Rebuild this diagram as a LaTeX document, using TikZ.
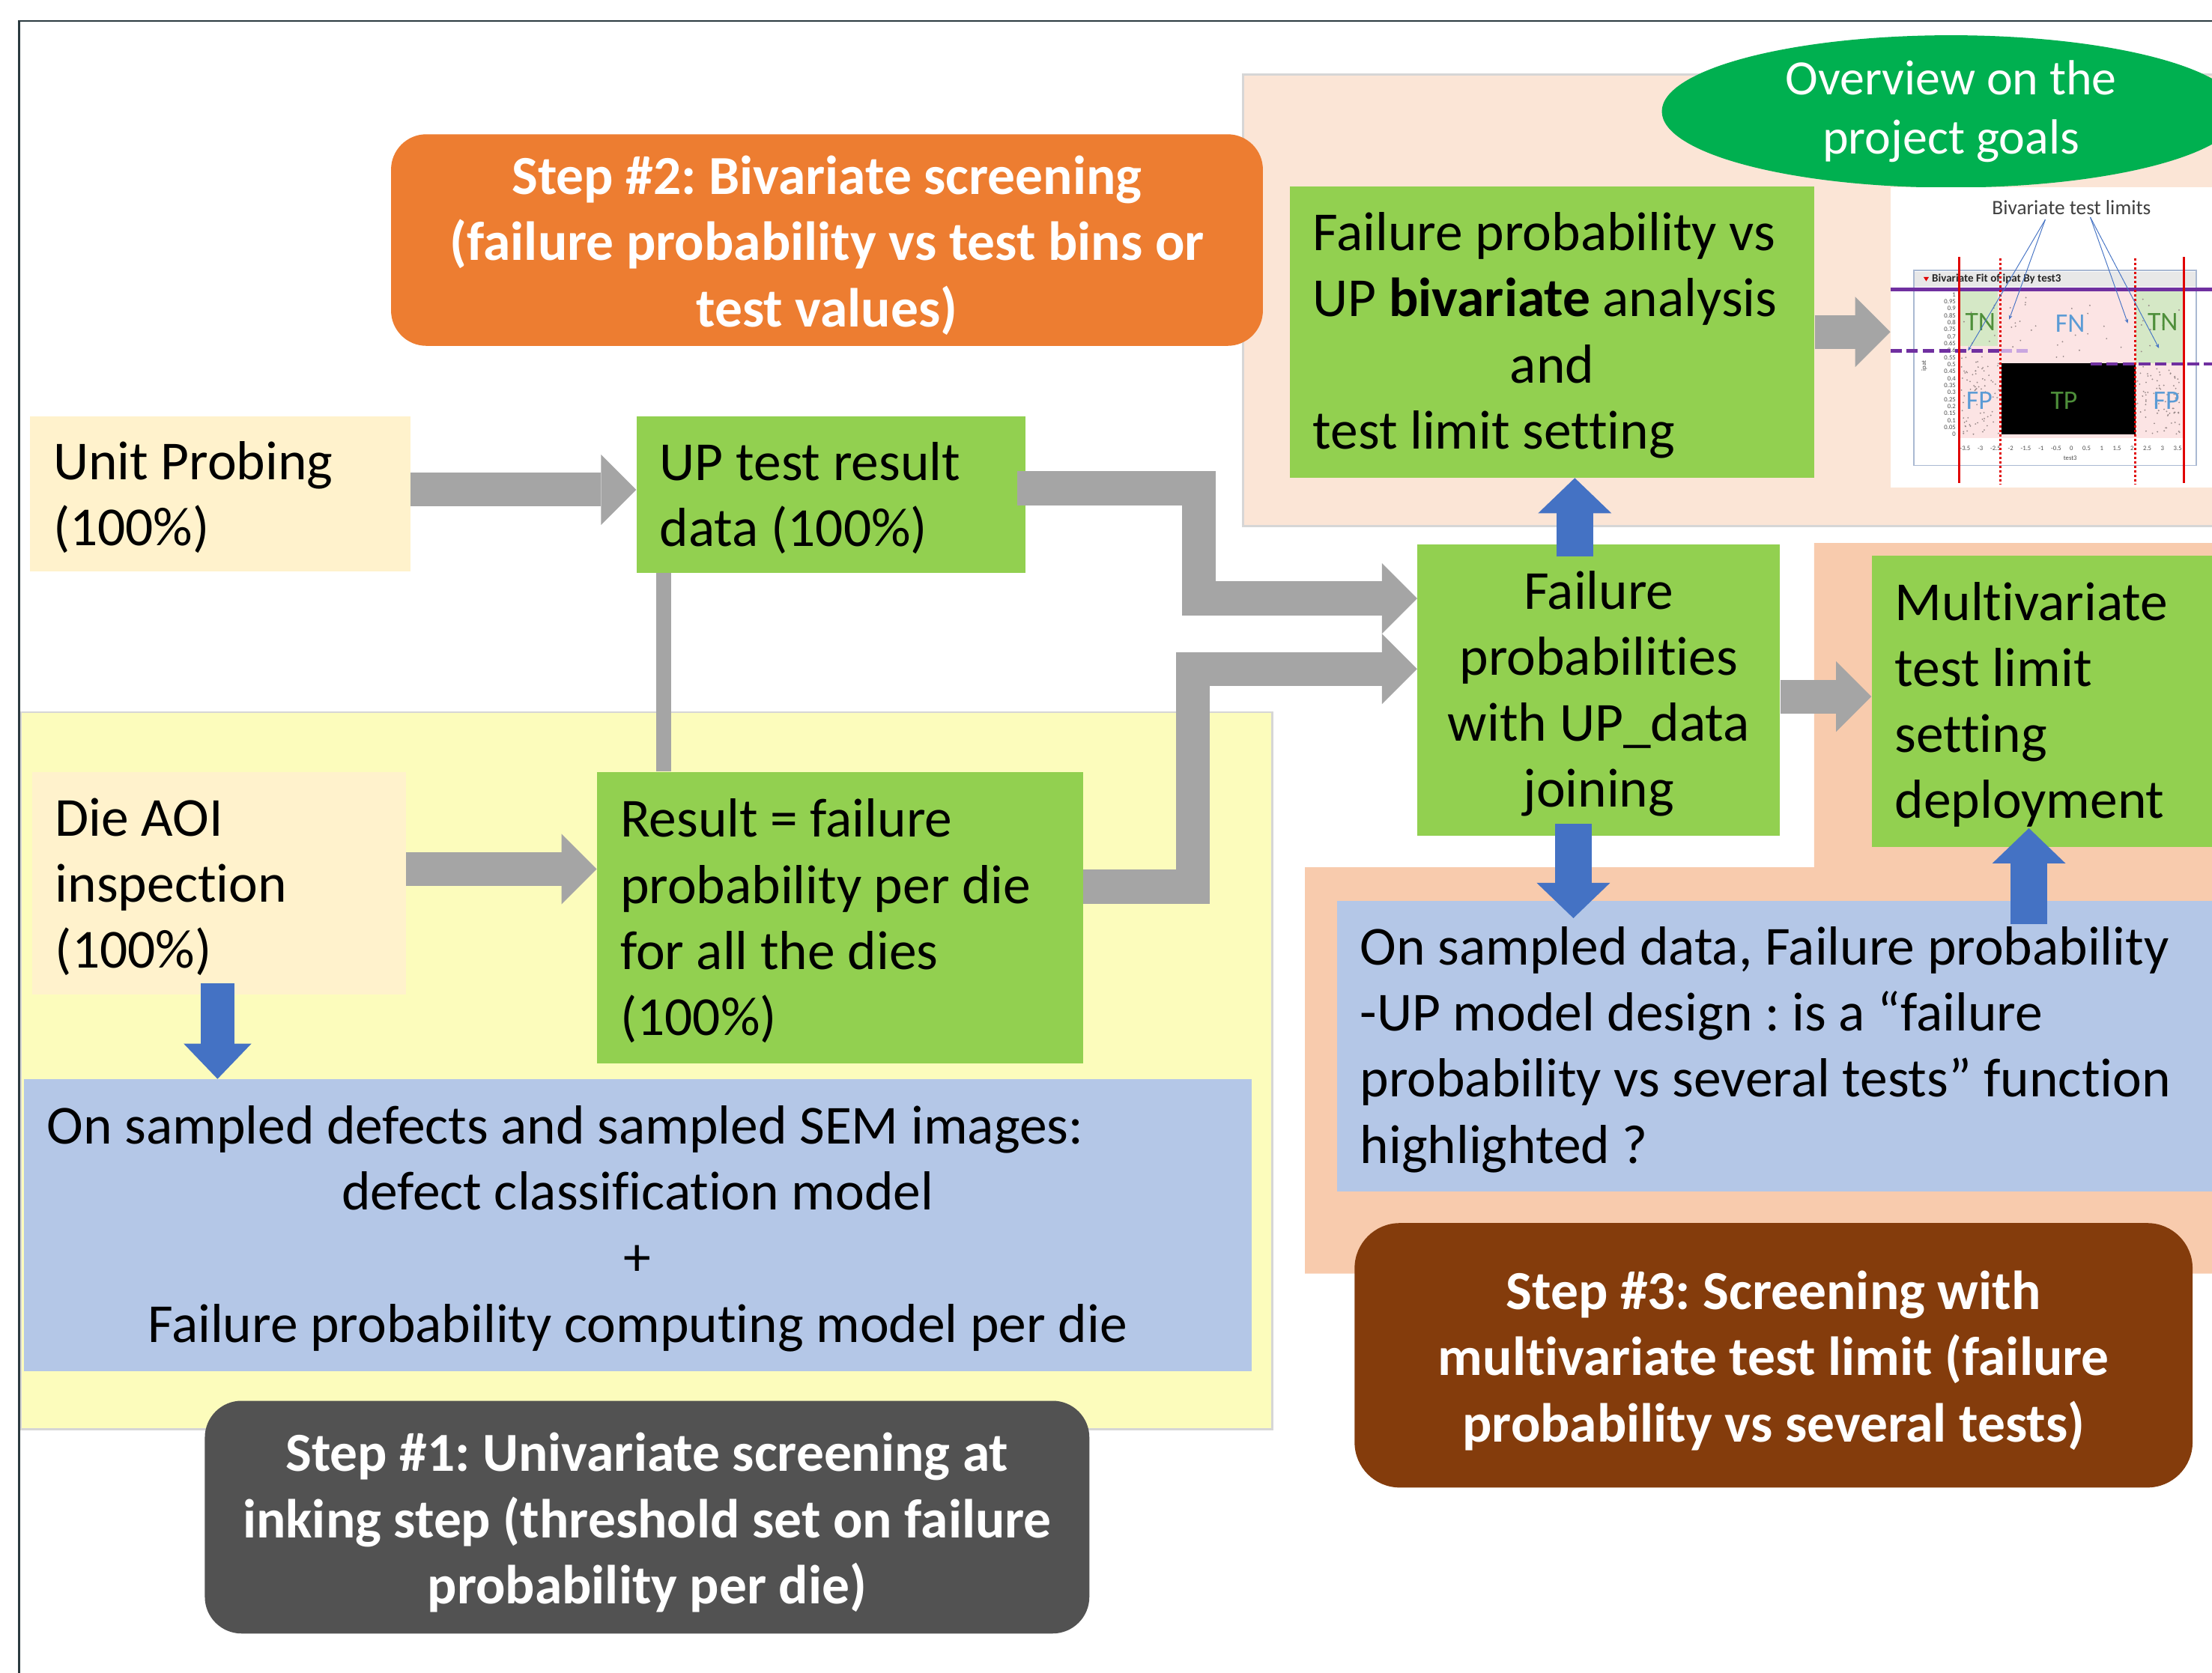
\documentclass[tikz,border=0pt]{standalone}
\usepackage{fontspec}
\setmainfont{Carlito}[Ligatures=NoCommon]
\usetikzlibrary{arrows.meta,shapes.geometric}
\frenchspacing
\newcommand\fsA{\fontsize{39pt}{46.8pt}\selectfont}
\newcommand\fsB{\fontsize{39pt}{46.8pt}\selectfont\bfseries}
\newcommand\fsE{\fontsize{35pt}{42pt}\selectfont}
\newcommand\fsL{\fontsize{19pt}{20pt}\selectfont}
\newcommand\fsT{\fontsize{4.6pt}{5pt}\selectfont}
\definecolor{framec}{HTML}{2B3A40}
\definecolor{cOrange}{HTML}{ED7D31}
\definecolor{peachA}{HTML}{FBE5D6}
\definecolor{peachB}{HTML}{F8CBAD}
\definecolor{edgec}{HTML}{D6D6D6}
\definecolor{eGreen}{HTML}{00B050}
\definecolor{lGreen}{HTML}{92D050}
\definecolor{cream}{HTML}{FFF2CC}
\definecolor{pYellow}{HTML}{FCFCBC}
\definecolor{lBlue}{HTML}{B4C7E7}
\definecolor{aBlue}{HTML}{4472C4}
\definecolor{aGray}{HTML}{A5A5A5}
\definecolor{sBrown}{HTML}{843C0C}
\definecolor{dGray}{HTML}{525252}
\definecolor{plotPink}{HTML}{FCE4E4}
\definecolor{plotGreen}{HTML}{D5E8C6}
\definecolor{lblGreen}{HTML}{4E8F3A}
\definecolor{lblBlue}{HTML}{5B9BD5}
\definecolor{pPurple}{HTML}{7030A0}
\definecolor{pPurpleL}{HTML}{C9A6E0}
\definecolor{pRed}{HTML}{E00000}
\definecolor{dotc}{HTML}{9A8A8A}
\begin{document}
\begin{tikzpicture}[x=1pt,y=-1pt,
  tbox/.style={rectangle, anchor=north west, inner xsep=16.5pt, inner ysep=0pt, align=left, font=\fsA, text=black, execute at begin node={\spaceskip=\fontdimen2\font\xspaceskip=\fontdimen2\font\relax\rule{0pt}{32pt}}},
  stepbox/.style={rectangle, anchor=north west, inner sep=0pt, align=center, font=\fsB, text=white, execute at begin node={\spaceskip=\fontdimen2\font\xspaceskip=\fontdimen2\font\relax\rule{0pt}{35pt}}},
  garrow/.style={draw=aGray, line width=24pt, line join=miter, -{Triangle[width=50pt,length=25pt,line width=0pt]}},
  barrow/.style={draw=aBlue, line width=26pt, -{Triangle[width=52pt,length=25pt,line width=0pt]}},
  plotlbl/.style={font=\fsL, inner sep=0pt},
  tick/.style={font=\fsT, text=black!70, inner sep=0pt}
]
\useasboundingbox (0,0) rectangle (1568,1186);
\clip (0,0) rectangle (1568,1186);
\fill[white] (0,0) rectangle (1568,1186);

% regions
\filldraw[fill=pYellow, draw=edgec, line width=1.5pt] (14.8,505) rectangle (902,1013.5);
\filldraw[fill=peachA, draw=edgec, line width=1.5pt] (881,53) rectangle (1600,373);
\fill[peachB] (1286,385) -- (1600,385) -- (1600,903) -- (925,903) -- (925,615) -- (1286,615) -- cycle;

% frame
\draw[framec, line width=1.3pt] (13.5,1200) -- (13.5,15) -- (1600,15);

% boxes
\node[tbox, fill=cream, text width=236.6pt, minimum height=110pt] (unit) at (21,295) {Unit Probing\\(100\%)};
\node[tbox, fill=lGreen, text width=242.5pt, minimum height=111pt] (up) at (451,295) {UP test result\\data (100\%)};
\node[tbox, fill=cream, text width=232pt, minimum height=158pt] (die) at (22.5,547) {Die AOI\\inspection\\(100\%)};
\node[tbox, fill=lGreen, text width=311.6pt, minimum height=206.6pt] (result) at (423,547) {Result = failure\\probability per die\\for all the dies\\(100\%)};
\node[tbox, fill=lGreen, align=center, text width=224pt, minimum height=207pt] (fail) at (1004.6,385.6) {Failure\\probabilities\\with UP\_data\\joining};
\node[tbox, fill=lGreen, text width=237pt, minimum height=206.7pt] (multi) at (1326.5,393.7) {Multivariate\\test limit\\setting\\deployment};
\node[tbox, fill=lGreen, text width=339pt, minimum height=206.7pt] (biv) at (914,131.8) {Failure probability vs\\UP \textbf{bivariate} analysis\\\makebox[\linewidth][c]{and}\\test limit setting};
\node[tbox, fill=lBlue, align=center, text width=837.4pt, minimum height=207pt] (bluel) at (16.6,765) {\makebox[\linewidth][l]{On sampled defects and sampled SEM images:}\\defect classification model\\+\\Failure probability computing model per die};
\node[tbox, fill=lBlue, text width=617pt, minimum height=206.4pt] (bluer) at (947.4,638.4) {On sampled data, Failure probability\\-UP model design : is a “failure\\probability vs several tests” function\\highlighted ?};

% step boxes
\node[stepbox, fill=cOrange, minimum width=618pt, text width=598pt, minimum height=150pt, rounded corners=25pt] (s2) at (277,95) {Step \#2: Bivariate screening\\(failure probability vs test bins or\\test values)};
\node[stepbox, fill=dGray, minimum width=627pt, text width=607pt, minimum height=165pt, rounded corners=26pt] (s1) at (145,993) {Step \#1: Univariate screening at\\inking step (threshold set on failure\\probability per die)};
\node[stepbox, fill=sBrown, minimum width=594pt, text width=574pt, minimum height=187.5pt, rounded corners=32pt] (s3) at (960,867) {Step \#3: Screening with\\multivariate test limit (failure\\probability vs several tests)};
\node[ellipse, fill=eGreen, minimum width=410pt, minimum height=108pt, inner sep=0pt, text=white, align=center, font=\fsE] (goal) at (1383,79) {Overview on the\\project goals};

% scatter inset
\node[rectangle, fill=white, anchor=north west, minimum width=260pt, minimum height=212.9pt, inner sep=0pt] (img) at (1340,132.8) {};
\node[font=\fontsize{14.5pt}{15pt}\selectfont, text=black!75, inner sep=0pt] (btl) at (1468.4,146.9) {Bivariate test limits};
\draw[lBlue!80!gray, line width=0.8pt] (1356.6,191.7) rectangle (1556.9,330.1);
\fill[black!9] (1357.2,192.5) rectangle (1556.3,203.5);
\fill[pRed] (1363.5,196.4) -- (1367.3,196.4) -- (1365.4,199.4) -- cycle;
\node[anchor=west, font=\fontsize{8pt}{9pt}\selectfont\bfseries, text=black!85, inner sep=0pt] (ptitle) at (1369.3,197.9) {Bivariate Fit of ipat By test3};
\fill[plotPink] (1388.8,205.3) rectangle (1548.1,310.6);
\fill[plotGreen] (1388.8,205.3) rectangle (1416.2,245.1);
\fill[plotGreen] (1513.6,205.3) rectangle (1548.1,257.5);
\pgfmathsetseed{42}
\foreach \k in {1,...,80}{
  \pgfmathsetmacro{\px}{1390+27*rnd}
  \pgfmathsetmacro{\py}{252+56*rnd}
  \fill[dotc] (\px,\py) circle (0.55pt);
}
\foreach \k in {1,...,80}{
  \pgfmathsetmacro{\px}{1515+30*rnd}
  \pgfmathsetmacro{\py}{260+48*rnd}
  \fill[dotc] (\px,\py) circle (0.55pt);
}
\foreach \k in {1,...,25}{
  \pgfmathsetmacro{\px}{1422+88*rnd}
  \pgfmathsetmacro{\py}{208+48*rnd}
  \fill[dotc] (\px,\py) circle (0.55pt);
}
\foreach \k in {1,...,10}{
  \pgfmathsetmacro{\px}{1391+24*rnd}
  \pgfmathsetmacro{\py}{208+36*rnd}
  \fill[dotc] (\px,\py) circle (0.55pt);
  \pgfmathsetmacro{\qx}{1516+30*rnd}
  \pgfmathsetmacro{\qy}{208+48*rnd}
  \fill[dotc] (\qx,\qy) circle (0.55pt);
}
\fill[black] (1419,257.5) rectangle (1513.6,308);
\node[plotlbl, text=lblGreen] (tn1) at (1403.8,228.3) {TN};
\node[plotlbl, text=lblBlue] (fn) at (1467.5,229.2) {FN};
\node[plotlbl, text=lblGreen] (tn2) at (1533.1,228.3) {TN};
\node[plotlbl, text=lblBlue] (fp1) at (1403,284.1) {FP};
\node[plotlbl, text=lblGreen] (tp) at (1463.1,284.1) {TP};
\node[plotlbl, text=lblBlue] (fp2) at (1535.7,284.1) {FP};
\foreach \v [count=\c from 0] in {1,0.95,0.9,0.85,0.8,0.75,0.7,0.65,0.6,0.55,0.5,0.45,0.4,0.35,0.3,0.25,0.2,0.15,0.1,0.05,0}
  \node[tick, anchor=east] (yt\c) at (1386.5,{208.8+4.96*\c}) {\v};
\foreach \v [count=\c from 0] in {-3.5,-3,-2.5,-2,-1.5,-1,-0.5,0,0.5,1,1.5,2,2.5,3,3.5}
  \node[tick] (xt\c) at ({1393+10.76*\c},317.7) {\v};
\node[tick] (xlab) at (1467.5,324.8) {test3};
\node[tick, rotate=90] (ylab) at (1364,259.3) {ipat};
\draw[pPurple, line width=2.4pt] (1340,205.3) -- (1600,205.3);
\draw[pPurple, line width=2.4pt, dash pattern=on 8pt off 3.5pt] (1340,248.7) -- (1418,248.7);
\draw[pPurpleL, line width=2.4pt, dash pattern=on 8pt off 3.5pt] (1418,248.7) -- (1438.7,248.7);
\draw[pPurple, line width=2.4pt, dash pattern=on 8pt off 3.5pt] (1481.7,258.1) -- (1600,258.1);
\draw[pRed, line width=2pt] (1388.8,182.3) -- (1388.8,342.5);
\draw[pRed, line width=2pt] (1548.1,182.3) -- (1548.1,342.5);
\draw[pRed, line width=2pt, dash pattern=on 1.6pt off 1.6pt] (1418,183.2) -- (1418,343.4);
\draw[pRed, line width=2pt, dash pattern=on 1.6pt off 1.6pt] (1513.6,183.2) -- (1513.6,343.4);
\draw[aBlue, line width=0.5pt, -{Stealth[length=3pt,width=2.5pt]}] (1449.8,155.7) -- (1395,248.7);
\draw[aBlue, line width=0.5pt, -{Stealth[length=3pt,width=2.5pt]}] (1449.8,155.7) -- (1424.2,226.5);
\draw[aBlue, line width=0.5pt, -{Stealth[length=3pt,width=2.5pt]}] (1481.7,154) -- (1508.3,229.2);
\draw[aBlue, line width=0.5pt, -{Stealth[length=3pt,width=2.5pt]}] (1481.7,154) -- (1530.4,246.9);

% gray connectors
\draw[garrow] ([yshift=3pt]unit.east) -- ([yshift=3pt]unit.east -| up.west);
\draw[garrow] ([yshift=10pt]die.east) -- ([yshift=10pt]die.east -| result.west);
\draw[draw=aGray, line width=11pt] ([xshift=19.5pt]up.south west) -- ([xshift=19.5pt]up.south west |- result.north);
\draw[garrow] ([yshift=4.5pt,xshift=-6pt]up.east) -- ++(129pt,0) |- ([yshift=65pt]fail.west);
\draw[garrow] ([yshift=21.8pt]result.east) -- ++(77.4pt,0) |- ([yshift=15pt]fail.west);
\draw[garrow] ([yshift=-4.6pt]fail.east) -- ([yshift=-4.6pt]fail.east -| multi.west);
\draw[garrow] (biv.east) -- (biv.east -| img.west);

% blue connectors
\draw[barrow] ([xshift=-17pt,yshift=-9pt]fail.north) -- ([xshift=-17pt]fail.north |- biv.south);
\draw[barrow] ([xshift=-18pt,yshift=9pt]fail.south) -- ([xshift=-18pt,yshift=-12.6pt]fail.south |- bluer.north);
\draw[barrow] ([xshift=-23.5pt,yshift=-16.6pt]multi.south |- bluer.north) -- ([xshift=-23.5pt,yshift=13.6pt]multi.south);
\draw[barrow, line width=24pt, -{Triangle[width=48pt,length=25pt,line width=0pt]}] ([xshift=-1pt,yshift=8pt]die.south) -- ([xshift=-1pt]die.south |- bluel.north);
\end{tikzpicture}
\end{document}
